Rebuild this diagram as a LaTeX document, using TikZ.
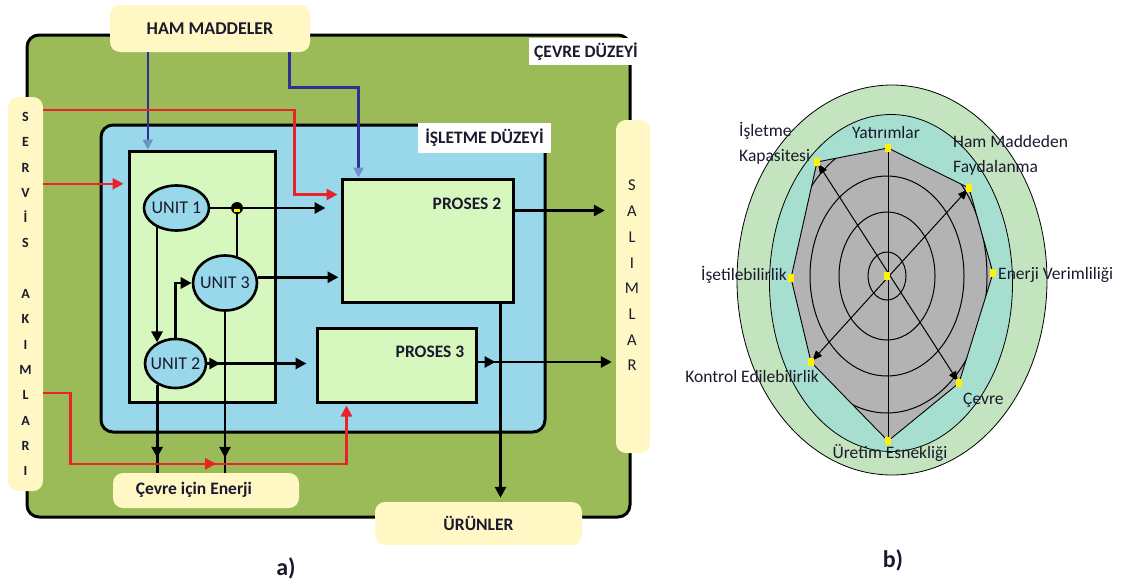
\documentclass[tikz,border=0pt]{standalone}
\usepackage{fontspec}
\setmainfont{Carlito}
\usetikzlibrary{arrows.meta,shapes.geometric,calc,decorations.markings}
\definecolor{envgreen}{HTML}{9BBB59}
\definecolor{opblue}{HTML}{99D8EA}
\definecolor{lgreen}{HTML}{D6F7BD}
\definecolor{lyel}{HTML}{FFF7C4}
\definecolor{navy}{HTML}{2E3192}
\definecolor{tipblue}{HTML}{7090C8}
\definecolor{fred}{HTML}{E8232A}
\definecolor{ringg}{HTML}{C4E3BF}
\definecolor{radteal}{HTML}{A6DFD0}
\definecolor{rgrey}{HTML}{B3B3B3}
\definecolor{myyel}{HTML}{FFF200}
\definecolor{txt}{HTML}{1A1A2E}
\begin{document}
\begin{tikzpicture}[x=1pt,y=-1pt,
  envbox/.style={draw=black, line width=3pt, rounded corners=12pt, inner sep=0pt},
  yelbox/.style={fill=lyel, rounded corners=10pt, inner sep=0pt},
  procbox/.style={draw=black, line width=3pt, fill=lgreen, inner sep=0pt},
  boldlab/.style={font=\bfseries\fontsize{17.5}{20}\selectfont, text=txt, inner sep=0pt},
  unitnode/.style={ellipse, draw=black, line width=2.6pt, fill=opblue, inner sep=0pt,
     font=\fontsize{18}{20}\selectfont, text=txt},
  conn/.style={line width=2.8pt, -{Triangle[length=11pt,width=11pt]}},
  plainline/.style={line width=2.8pt},
  midtip/.style={postaction={decorate}, decoration={markings,
     mark=at position #1 with {\arrow{Triangle[length=11pt,width=11pt]}}}},
  blueline/.style={draw=navy, line width=2.6pt, -{Triangle[length=10pt,width=10pt,color=tipblue]}},
  redline/.style={color=fred, line width=2.6pt, -{Triangle[length=11pt,width=11pt]}},
  radarrow/.style={line width=1pt, {Triangle[length=10pt,width=8pt]}-{Triangle[length=10pt,width=8pt]},
     shorten <=2pt, shorten >=2pt},
  radlab/.style={font=\fontsize{17.5}{25}\selectfont, text=txt, inner sep=0pt},
  ymark/.style={fill=myyel}
]
\useasboundingbox (0,0) rectangle (1138,584);

% ---------------- a) ----------------
\node[envbox, fill=envgreen, minimum width=603pt, minimum height=482pt] (cevre) at (328.5,276) {};
\node[yelbox, minimum width=200pt, minimum height=47pt, boldlab, font=\bfseries\fontsize{18}{20}\selectfont] (ham) at (210,28.5) {HAM MADDELER};
\node[yelbox, minimum width=35pt, minimum height=394pt, align=center, text=txt,
      font=\bfseries\fontsize{14}{25.3}\selectfont] (servis) at (25.5,294)
      {S\\E\\R\\V\\İ\\S\\\mbox{}\\A\\K\\I\\M\\L\\A\\R\\I};
\node[yelbox, minimum width=34pt, minimum height=333pt] (salim) at (633,286.5) {};
\node[align=center, text=txt, inner sep=0pt, font=\fontsize{16.5}{25.7}\selectfont] (salimtxt) at (632,275.5)
      {S\\A\\L\\I\\M\\L\\A\\R};
\node[yelbox, minimum width=186pt, minimum height=35pt] (enerji) at (206,490.5) {};
\node[boldlab] (enerjitxt) at (194,490) {Çevre için Enerji};
\node[yelbox, minimum width=207pt, minimum height=43pt, boldlab] (urun) at (478.5,523.5) {ÜRÜNLER};
\node[fill=white, minimum width=115pt, minimum height=27pt, boldlab] (cevrelab) at (586,51.5) {ÇEVRE DÜZEYİ};

\node[envbox, fill=opblue, minimum width=444pt, minimum height=307pt] (isletme) at (323,278.5) {};
\node[fill=white, minimum width=133pt, minimum height=30pt, boldlab] (isllab) at (484.5,138) {İŞLETME DÜZEYİ};

\node[procbox, minimum width=146pt, minimum height=251pt] (inner) at (202,276.5) {};
\node[procbox, minimum width=171pt, minimum height=123pt] (p2) at (427.5,240.5) {};
\node[procbox, minimum width=159pt, minimum height=74pt] (p3) at (396.5,365) {};
\node[boldlab] (p2t) at (467,204) {PROSES 2};
\node[boldlab] (p3t) at (430,352) {PROSES 3};

\node[unitnode, minimum width=65pt, minimum height=45pt] (u1) at (176.5,208) {\makebox[0pt]{UNIT 1}};
\node[unitnode, minimum width=64pt, minimum height=55pt] (u3) at (225,283) {\makebox[0pt]{UNIT 3}};
\node[unitnode, minimum width=61pt, minimum height=49pt] (u2) at (175.5,363.5) {\makebox[0pt]{UNIT 2}};

% black connectors
\coordinate (J) at (237,208);
\draw[conn, shorten >=15pt] (u1.east) -- (u1.east -| p2.west);
\draw[plainline] (J) -- (J |- u3.64);
\fill[black] (J) circle (6pt);
\fill[myyel] ($(J)+(-3.2,0.5)$) rectangle ($(J)+(3.2,4.2)$);
\draw[conn, shorten >=2pt] (u3.10) -- (u3.10 -| p2.west);
\draw[conn] (u1.225) -- (u1.225 |- u2.131);
\draw[conn] (u2.north) |- (u3.west);
\draw[conn, shorten >=9pt, midtip=13pt] (u2.east) -- (u2.east -| p3.west);
\draw[plainline, midtip=-15pt] (u2.229) -- (u2.229 |- enerji.north);
\draw[plainline, midtip=-15pt] (u3.south) -- (u3.south |- enerji.north);

\coordinate (p2o) at ($(p2.north east)+(0,33)$);
\draw[conn, shorten >=11pt] (p2o) -- (p2o -| salim.west);
\coordinate (p3o) at ($(p3.east)+(0,-3)$);
\draw[conn, shorten >=4pt, midtip=18pt] (p3o) -- (p3o -| salim.west);
\coordinate (p2b) at ($(p2.south east)+(-14,0)$);
\draw[conn, shorten >=4pt] (p2b) -- (p2b |- urun.north);

% blue connectors
\coordinate (hb1) at ($(ham.south west)+(38,0)$);
\draw[blueline] (hb1) -- (hb1 |- inner.north);
\coordinate (hb2) at ($(ham.south east)+(-21,0)$);
\coordinate (p2top) at ($(p2.north west)+(18,0)$);
\draw[blueline] (hb2) -- ++(0,35) -| (p2top);

% red connectors
\coordinate (r1) at ($(servis.north east)+(0,13)$);
\coordinate (p2r) at ($(p2.north west)+(0,17)$);
\draw[redline, shorten >=3pt] (r1) -| ([xshift=-46pt]p2r) -- (p2r);
\coordinate (r2) at ($(servis.north east)+(0,87)$);
\draw[redline, shorten >=4pt] (r2) -- (r2 -| inner.west);
\coordinate (r3) at ($(servis.north east)+(0,296)$);
\coordinate (p3b) at ($(p3.south west)+(31,0)$);
\draw[redline, shorten >=2pt, midtip=244pt] (r3) -- ++(27,0) -- ++(0,71) -| (p3b);

\node[font=\bfseries\fontsize{24}{26}\selectfont, text=txt] (capa) at (286,568) {a)};

% ---------------- b) ----------------
\coordinate (C) at (887,276);
\coordinate (vY) at (888,148);
\coordinate (vH) at (969,188);
\coordinate (vE) at (993,273);
\coordinate (vC) at (959,383);
\coordinate (vU) at (888,441);
\coordinate (vK) at (811,362);
\coordinate (vI) at (791,278);
\coordinate (vIK) at (817,162);

\node[ellipse, draw=black, line width=0.8pt, fill=ringg, minimum width=310pt, minimum height=390pt, inner sep=0pt] (outer) at (892,280) {};
\node[ellipse, draw=black, line width=0.8pt, fill=radteal, minimum width=243pt, minimum height=337pt, inner sep=0pt] (tealring) at (891,283) {};
\filldraw[fill=rgrey, draw=black, line width=0.9pt] (vY) -- (vH) -- (vE) -- (vC) -- (vU) -- (vK) -- (vI) -- (vIK) -- cycle;
\begin{scope}
  \clip (vY) -- (vH) -- (vE) -- (vC) -- (vU) -- (vK) -- (vI) -- (vIK) -- cycle;
  \foreach \rx/\ry in {19/24, 48/64, 77/100, 100/137}
    \draw[line width=1pt] (C) ellipse [x radius=\rx pt, y radius=\ry pt];
\end{scope}
\draw[line width=1pt] (vY) -- (vU);
\draw[radarrow] (vK) -- (vH);
\draw[radarrow] (vIK) -- (vC);
\foreach \v in {vY,vH,vE,vC,vU,vK,vI,vIK,C}
  \fill[ymark] ($(\v)+(-3,-4)$) rectangle ($(\v)+(3,4)$);

\node[radlab, anchor=west, align=left] (lIK) at (739,143) {İşletme\\Kapasitesi};
\node[radlab] (lY) at (886,132) {Yatırımlar};
\node[radlab, anchor=west, align=left] (lH) at (953,155) {Ham Maddeden\\Faydalanma};
\node[radlab, anchor=west] (lE) at (998,275) {Enerji Verimliliği};
\node[radlab, anchor=east] (lI) at (787,275) {İşetilebilirlik};
\node[radlab, anchor=east] (lK) at (819,376) {Kontrol Edilebilirlik};
\node[radlab, anchor=west] (lC) at (963,400) {Çevre};
\node[radlab] (lU) at (890,453) {Üretim Esnekliği};

\node[font=\bfseries\fontsize{24}{26}\selectfont, text=txt] (capb) at (893,560) {b)};
\end{tikzpicture}
\end{document}
